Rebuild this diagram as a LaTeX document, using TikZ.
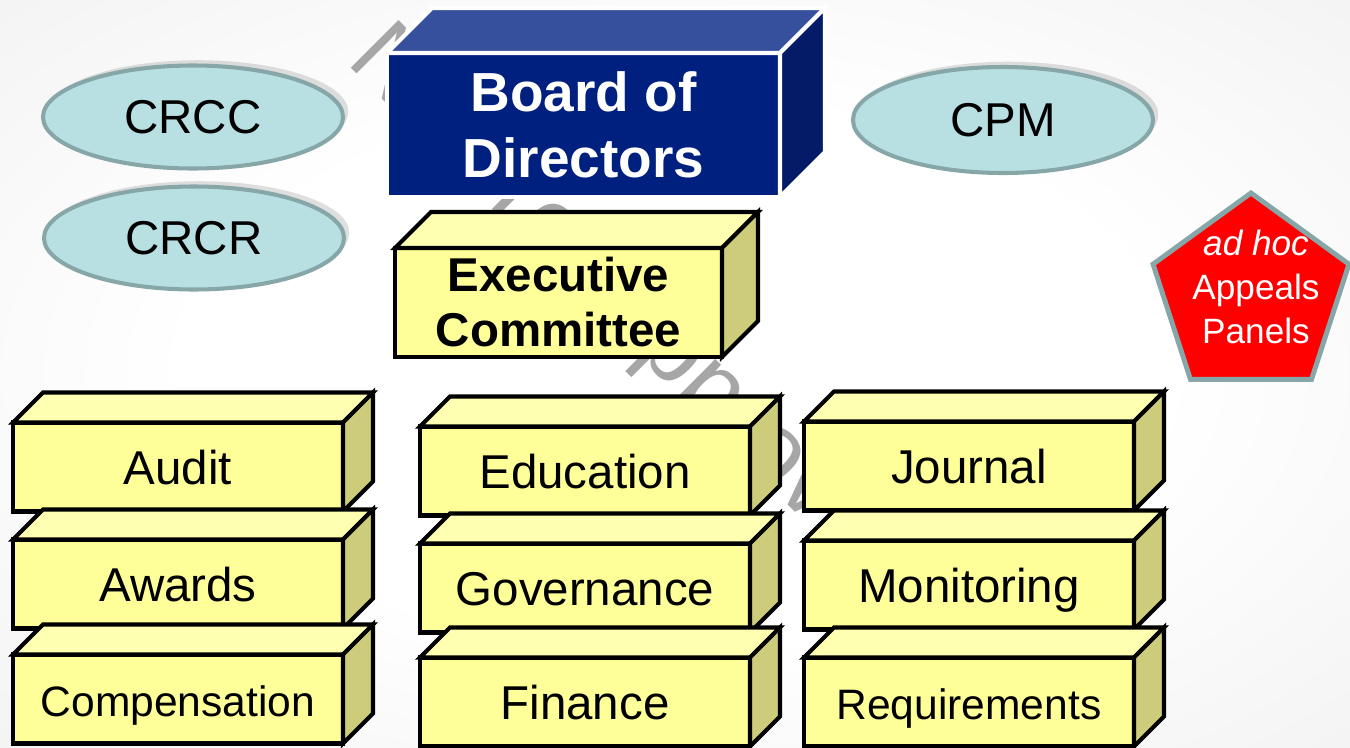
\documentclass[tikz,border=0pt]{standalone}
\usepackage{fontspec}
\setmainfont{Liberation Sans}
\usetikzlibrary{shapes.geometric,shadows}

\definecolor{bgGray}{RGB}{220,220,220}
\definecolor{wmGray}{RGB}{166,166,166}
\definecolor{ovalFill}{RGB}{184,224,227}
\definecolor{ovalLine}{RGB}{134,166,168}
\definecolor{boardFront}{RGB}{0,32,127}
\definecolor{boardTop}{RGB}{54,80,158}
\definecolor{boardSide}{RGB}{4,28,104}
\definecolor{boxFront}{RGB}{255,255,153}
\definecolor{boxTop}{RGB}{255,255,178}
\definecolor{boxSide}{RGB}{204,204,122}

\pgfdeclareradialshading{slidebg}{\pgfpoint{0bp}{0bp}}{%
  color(0bp)=(white); color(18bp)=(white); color(72bp)=(bgGray)}

\tikzset{
  boxbase/.style={rectangle, draw=black, line width=1.15pt, fill=boxFront,
                  inner sep=0pt, outer sep=0pt},
  committee/.style={boxbase, minimum width=330*\px, minimum height=89*\px,
                    text height=1em, text depth=0pt,
                    font=\fontsize{13.5}{16}\selectfont},
  boxface/.style={draw=black, line width=1.15pt},
  board/.style={rectangle, draw=white, line width=1.15pt, fill=boardFront,
                text=white, align=center, inner sep=0pt, outer sep=0pt,
                font=\fontsize{15.65}{18.8}\selectfont\bfseries},
  boardface/.style={draw=white, line width=1.15pt},
  oval/.style={ellipse, draw=ovalLine, line width=1.15pt, fill=ovalFill,
               inner sep=0pt, font=\fontsize{13.5}{16}\selectfont,
               drop shadow={shadow xshift=1.5pt, shadow yshift=1.5pt, opacity=.25}},
  appeal/.style={regular polygon, regular polygon sides=5, draw=ovalLine,
                 line width=1.4pt, fill=red, inner sep=0pt},
  appealtext/.style={text=white, align=center, inner sep=0pt,
                     font=\fontsize{10}{12.4}\selectfont},
  wmark/.style={text=wmGray, inner sep=0pt, font=\fontsize{27.9}{33}\selectfont}
}

\begin{document}
\begin{tikzpicture}[x=0.01cm, y=-0.01cm]
\def\px{0.01cm}
\def\dd{30}

\useasboundingbox (0,0) rectangle (1350,748);
\shade[shading=slidebg] (0,0) rectangle (1350,748);

% watermark, mostly hidden
\node[wmark, anchor=base west, rotate=-45] (wm) at (345,62) {Not Yet Approved};

% ovals
\node[oval, minimum width=300*\px, minimum height=103*\px] (crcc) at (193,117) {CRCC};
\node[oval, minimum width=300*\px, minimum height=103*\px] (crcr) at (194,238) {CRCR};
\node[oval, minimum width=300*\px, minimum height=106*\px] (cpm) at (1003,120) {CPM};

% board
\node[board, minimum width=393*\px, minimum height=144*\px] (bod) at (583.5,125) {Board of\\Directors};
\filldraw[boardface, fill=boardTop] (bod.north west) -- ++(45,-45)
  -- ([shift={(45,-45)}]bod.north east) -- (bod.north east) -- cycle;
\filldraw[boardface, fill=boardSide] (bod.north east) -- ++(45,-45)
  -- ([shift={(45,-45)}]bod.south east) -- (bod.south east) -- cycle;

% executive committee
\node[boxbase, align=center, minimum width=327*\px, minimum height=109*\px,
      font=\fontsize{13.5}{15.65}\selectfont\bfseries] (exec) at (558.5,302.5) {Executive\\Committee};
\filldraw[boxface, fill=boxTop] (exec.north west) -- ++(36,-36)
  -- ([shift={(36,-36)}]exec.north east) -- (exec.north east) -- cycle;
\filldraw[boxface, fill=boxSide] (exec.north east) -- ++(36,-36)
  -- ([shift={(36,-36)}]exec.south east) -- (exec.south east) -- cycle;

% committees
\node[committee] (audit) at (178,467) {Audit};
\node[committee] (awards) at (178,584) {Awards};
\node[committee, font=\fontsize{12.1}{14.5}\selectfont] (comp) at (178,699) {Compensation};

\node[committee] (educ) at (585,471) {Education};
\node[committee] (gov) at (585,588) {Governance};
\node[committee] (fin) at (585,702) {Finance};

\node[committee] (journal) at (969,466) {Journal};
\node[committee] (monit) at (969,585) {Monitoring};
\node[committee, font=\fontsize{12.1}{14.5}\selectfont] (reqs) at (969,702) {Requirements};

\foreach \n in {audit,awards,comp,educ,gov,fin,journal,monit,reqs}{
  \filldraw[boxface, fill=boxTop] (\n.north west) -- ++(\dd,-\dd)
    -- ([shift={(\dd,-\dd)}]\n.north east) -- (\n.north east) -- cycle;
  \filldraw[boxface, fill=boxSide] (\n.north east) -- ++(\dd,-\dd)
    -- ([shift={(\dd,-\dd)}]\n.south east) -- (\n.south east) -- cycle;
}

% appeals panels
\node[appeal, minimum size=206*\px] (panel) at (1251,296) {};
\node[appealtext] (paneltxt) at (1256,287) {\textit{ad hoc}\\Appeals\\Panels};
\end{tikzpicture}
\end{document}
